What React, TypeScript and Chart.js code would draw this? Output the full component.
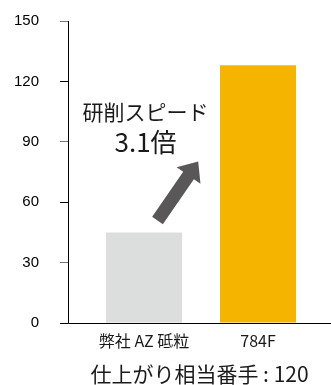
import React, { useEffect, useRef } from "react";
import { Chart, registerables } from "chart.js";

Chart.register(...registerables);

const categories = ["弊社 AZ 砥粒", "784F"];
const values = [45, 128];
const barColors = ["#DCDDDD", "#F5B400"];
const yTicks = [0, 30, 60, 90, 120, 150];
const xTitle = "仕上がり相当番手 : 120";
const calloutLines = ["研削スピード", "3.1倍"];
// callout anchors in data coordinates [x, y]
const calloutPos = [
  [0.013, 105.0],
  [0.013, 89.7],
];
const arrowFrom = [0.118, 50.9];
const arrowTo = [0.475, 80.2];

const JP = "'Noto Sans CJK JP', 'Noto Sans', sans-serif";

const calloutPlugin = {
  id: "callout",
  afterDatasetsDraw(chart: any) {
    const { ctx } = chart;
    const x = chart.scales.x;
    const y = chart.scales.y;
    ctx.save();
    const x0 = x.getPixelForValue(arrowFrom[0]);
    const y0 = y.getPixelForValue(arrowFrom[1]);
    const x1 = x.getPixelForValue(arrowTo[0]);
    const y1 = y.getPixelForValue(arrowTo[1]);
    const dx = x1 - x0;
    const dy = y1 - y0;
    const len = Math.hypot(dx, dy);
    const ux = dx / len;
    const uy = dy / len;
    const px = -uy;
    const py = ux;
    const hl = 17;
    const hw = 14.5;
    const sw = 6.5;
    const bx = x1 - ux * hl;
    const by = y1 - uy * hl;
    ctx.beginPath();
    ctx.moveTo(x0 + px * sw, y0 + py * sw);
    ctx.lineTo(bx + px * sw, by + py * sw);
    ctx.lineTo(bx + px * hw, by + py * hw);
    ctx.lineTo(x1, y1);
    ctx.lineTo(bx - px * hw, by - py * hw);
    ctx.lineTo(bx - px * sw, by - py * sw);
    ctx.lineTo(x0 - px * sw, y0 - py * sw);
    ctx.closePath();
    ctx.fillStyle = "#595757";
    ctx.fill();

    ctx.fillStyle = "#1a1a1a";
    ctx.textAlign = "center";
    ctx.textBaseline = "middle";
    const sizes = [21, 26];
    calloutLines.forEach((t, i) => {
      ctx.font = `${sizes[i]}px ${JP}`;
      ctx.fillText(
        t,
        x.getPixelForValue(calloutPos[i][0]),
        y.getPixelForValue(calloutPos[i][1])
      );
    });
    ctx.restore();
  },
};

export default function App() {
  const ref = useRef<HTMLCanvasElement>(null);

  useEffect(() => {
    if (!ref.current) return;
    const chart = new Chart(ref.current, {
      type: "bar",
      data: {
        datasets: [
          {
            data: values.map((v, i) => ({ x: i, y: v })),
            backgroundColor: barColors,
            borderWidth: 0,
            barPercentage: 0.667,
            categoryPercentage: 1,
          },
        ],
      },
      options: {
        responsive: false,
        animation: false,
        events: [],
        layout: { padding: { top: 21, left: 0, right: 0, bottom: 0 } },
        plugins: {
          legend: { display: false },
          tooltip: { enabled: false },
        },
        scales: {
          x: {
            type: "linear",
            offset: false,
            min: -0.667,
            max: 1.64,
            afterBuildTicks: (scale: any) => {
              scale.ticks = categories.map((_, i) => ({ value: i }));
            },
            afterFit: (scale: any) => {
              scale.height = 62;
            },
            grid: { display: false, offset: false },
            border: { display: true, color: "#000", width: 1 },
            ticks: {
              padding: 0,
              color: "#1a1a1a",
              font: { family: JP, size: 16 },
              callback: (v: any) => categories[v] ?? "",
              maxRotation: 0,
              autoSkip: false,
            },
            title: {
              display: true,
              text: xTitle,
              color: "#1a1a1a",
              font: { family: JP, size: 21 },
              padding: { top: 0, bottom: -2 },
            },
          },
          y: {
            min: 0,
            max: 150,
            afterBuildTicks: (scale: any) => {
              scale.ticks = yTicks.map((v) => ({ value: v }));
            },
            afterFit: (scale: any) => {
              scale.width = 68;
              scale.paddingTop = 0;
              scale.paddingBottom = 0;
            },
            grid: {
              drawOnChartArea: false,
              drawTicks: true,
              tickLength: 8,
              tickColor: ["#000", "#777", "#000", "#777", "#000", "#777"],
            },
            border: { display: true, color: "#000", width: 1 },
            ticks: {
              padding: 21,
              color: "#000",
              font: { family: "'Liberation Sans', Arial, sans-serif", size: 15 },
            },
          },
        },
      },
      plugins: [calloutPlugin],
    });
    return () => chart.destroy();
  }, []);

  return (
    <div style={{ position: "absolute", left: 0, top: 0, width: 331, height: 385 }}>
      <canvas ref={ref} width={331} height={385} style={{ display: "block" }} />
    </div>
  );
}
